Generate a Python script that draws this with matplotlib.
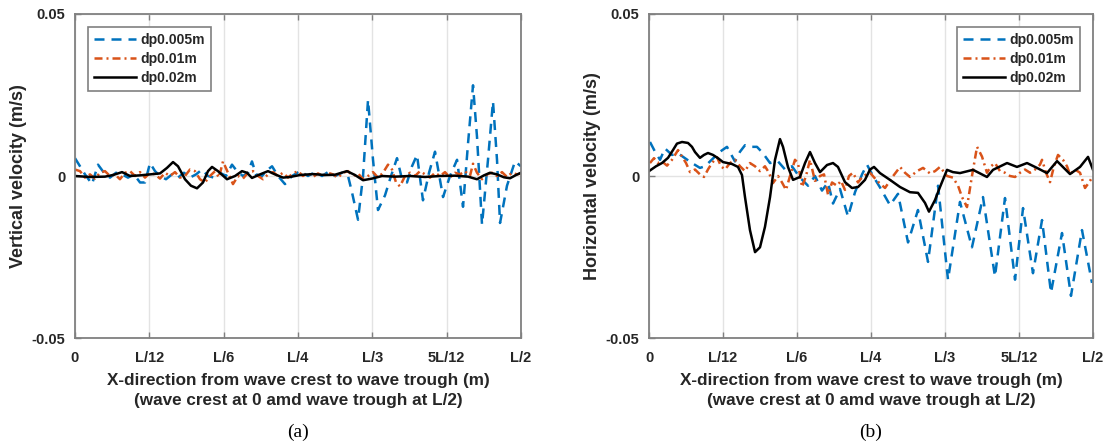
import matplotlib
matplotlib.use("Agg")
import matplotlib.pyplot as plt

plt.rcParams['font.family'] = ['Liberation Sans', 'DejaVu Sans']

# x positions are in percent of wavelength L (0 .. 50 = L/2); velocities in m/s
series_labels = ["dp0.005m", "dp0.01m", "dp0.02m"]
tick_pos = [0, 100/12, 100/6, 25, 100/3, 500/12, 50]
tick_labels = ["0", "L/12", "L/6", "L/4", "L/3", "5L/12", "L/2"]

# ---------------- (a) vertical velocity ----------------
a_blue_x = [0.0, 0.56, 1.12, 1.91, 2.58, 3.25, 3.92, 4.60, 5.27, 5.94, 6.61, 7.29, 7.85, 8.41,
            8.97, 9.53, 10.20, 10.87, 11.55, 12.22, 12.89, 13.57, 14.24, 14.91, 15.58, 16.26,
            16.93, 17.60, 18.16, 18.83, 19.39, 19.84, 20.29, 20.96, 21.64, 22.09, 22.76, 23.54,
            24.33, 25.22, 26.12, 26.91, 27.69, 28.36, 29.15, 29.93, 30.61, 31.05, 31.73, 32.29,
            32.85, 33.41, 33.97, 34.75, 35.43, 36.10, 36.66, 37.22, 37.78, 38.34, 39.01, 39.69,
            40.36, 41.26, 42.04, 42.83, 43.50, 44.06, 44.62, 45.07, 45.63, 46.30, 46.86, 47.31,
            47.65, 48.43, 49.33, 50.0]
a_blue_y = [0.0055, 0.003, 0.0005, -0.0025, 0.0035, 0.001, -0.0005, 0.001, 0.0005, -0.0005,
            0.0005, -0.002, -0.002, 0.004, 0.0015, 0.0, -0.001, 0.0005, -0.0005, 0.001, -0.0005,
            0.0005, 0.002, 0.0, -0.0005, 0.001, 0.0, 0.0035, 0.0015, 0.0, 0.001, 0.0045, 0.0005,
            0.0, 0.002, 0.003, 0.0, -0.0025, 0.0, 0.0015, 0.0, 0.0012, 0.0, 0.0012, 0.0, 0.001,
            0.0, -0.005, -0.0135, 0.0, 0.0235, 0.005, -0.0105, -0.006, 0.0, 0.0055, -0.001,
            -0.002, 0.003, 0.0065, -0.0075, 0.001, 0.0075, -0.0065, 0.0, 0.005, -0.0095, 0.01,
            0.028, 0.012, -0.015, 0.005, 0.023, 0.005, -0.0145, -0.003, 0.0045, 0.003]

a_orange_x = [0.0, 0.56, 1.12, 1.68, 2.24, 2.80, 3.36, 3.92, 4.48, 5.04, 5.61, 6.17, 6.73, 7.29,
              7.85, 8.41, 8.97, 9.53, 10.09, 10.65, 11.21, 11.77, 12.33, 12.89, 13.45, 14.01,
              14.57, 15.13, 15.70, 16.14, 16.59, 17.15, 17.71, 18.27, 18.83, 19.39, 19.96,
              20.52, 21.08, 21.64, 22.20, 22.76, 23.32, 23.88, 24.44, 25.00, 25.56, 26.12,
              26.68, 27.24, 27.80, 28.36, 28.92, 29.48, 30.04, 30.61, 31.17, 31.73, 32.29,
              32.85, 33.41, 33.97, 34.53, 35.09, 35.54, 35.99, 36.43, 37.00, 37.56, 38.12,
              38.68, 39.24, 39.80, 40.36, 40.92, 41.48, 42.04, 42.60, 43.16, 43.72, 44.28,
              44.62, 45.07, 45.63, 46.19, 46.75, 47.31, 47.87, 48.43, 48.99, 49.55, 50.0]
a_orange_y = [0.002, 0.0015, -0.0005, 0.0005, -0.0008, 0.001, 0.0015, 0.0, 0.0005, -0.001,
              0.001, 0.0015, 0.0, 0.0012, -0.0005, 0.001, 0.0005, -0.0008, 0.001, 0.0, 0.0012,
              -0.0005, 0.0, 0.002, 0.0015, -0.001, -0.002, 0.0, 0.0015, -0.0005, 0.0045, 0.001,
              -0.0025, 0.0, -0.0008, 0.001, 0.0015, 0.0, -0.001, 0.0005, 0.0012, 0.0, 0.001,
              -0.0005, 0.0008, 0.0015, 0.0, 0.001, -0.0003, 0.0008, 0.0, 0.001, 0.0005, -0.0005,
              0.001, 0.0015, 0.0, 0.0008, -0.001, 0.0, 0.0012, -0.0005, 0.001, 0.0035, 0.002,
              -0.002, -0.0032, 0.0, 0.001, 0.0, 0.0015, 0.0005, -0.0005, 0.001, 0.0, 0.0012,
              -0.0005, 0.001, 0.0005, 0.0015, 0.0, 0.0038, 0.001, -0.001, 0.0005, 0.001, 0.0,
              0.0012, -0.0003, 0.001, 0.0005, 0.0008]

a_black_x = [0.0, 1.68, 3.36, 4.26, 5.27, 6.17, 7.29, 8.41, 9.53, 10.31, 10.99, 11.55, 12.33,
             13.00, 13.68, 14.35, 14.91, 15.36, 16.03, 17.04, 17.94, 18.72, 19.28, 19.84, 20.74,
             21.64, 22.42, 23.32, 24.10, 25.22, 26.68, 28.03, 29.15, 30.49, 31.39, 32.29, 33.30,
             34.42, 35.87, 37.56, 39.24, 40.92, 42.60, 44.06, 45.07, 45.85, 46.52, 47.31, 48.09,
             48.77, 49.44, 50.0]
a_black_y = [0.0, -0.0003, -0.0002, 0.0003, 0.0012, 0.0, 0.0002, 0.0005, 0.0008, 0.0025, 0.0043,
             0.0030, -0.0010, -0.0030, -0.0038, -0.0020, 0.0015, 0.0028, 0.0015, -0.0010, 0.0,
             0.0015, 0.0010, -0.0006, 0.0005, 0.0015, 0.0005, -0.0005, -0.0003, 0.0003, 0.0006,
             0.0003, 0.0004, 0.0015, 0.0003, -0.0013, -0.0008, 0.0, -0.0002, 0.0, -0.0003, 0.0,
             0.0001, -0.0002, -0.0010, 0.0002, 0.0010, 0.0005, -0.0004, -0.0007, 0.0003, 0.0010]

# ---------------- (b) horizontal velocity ----------------
b_blue_x = [0.11, 0.68, 1.24, 1.80, 2.59, 3.27, 4.05, 4.84, 5.74, 6.31, 6.87, 7.43, 8.00, 8.78,
            9.68, 10.25, 10.81, 11.37, 12.16, 12.84, 13.63, 14.53, 15.32, 16.10, 17.00, 17.91,
            18.69, 19.48, 20.16, 20.72, 21.51, 22.41, 23.20, 23.99, 24.55, 25.23, 26.01, 27.14,
            28.04, 29.17, 30.29, 31.42, 32.55, 33.67, 35.02, 36.37, 37.61, 38.96, 40.09, 41.22,
            42.12, 43.24, 44.26, 45.27, 46.51, 47.52, 48.76, 49.89]
b_blue_y = [0.0105, 0.0075, 0.005, 0.0085, 0.0065, 0.007, 0.0055, 0.004, 0.0025, 0.003, 0.0045,
            0.006, 0.0075, 0.009, 0.0045, 0.0075, 0.0095, 0.009, 0.009, 0.007, 0.004, 0.0045,
            0.002, 0.003, -0.0005, -0.003, 0.0, -0.0045, -0.002, -0.0085, -0.004, -0.0125,
            -0.005, 0.0005, 0.0035, 0.0, -0.0035, -0.009, -0.0055, -0.0205, -0.0105, -0.0265,
            -0.003, -0.032, -0.008, -0.022, -0.0065, -0.031, -0.0068, -0.032, -0.0099, -0.030,
            -0.0136, -0.036, -0.0176, -0.037, -0.0167, -0.033]

b_orange_x = [0.11, 0.56, 1.01, 1.46, 2.03, 2.59, 3.27, 3.72, 4.17, 4.62, 5.18, 5.74, 6.19,
              6.64, 7.09, 7.66, 8.11, 8.56, 9.12, 9.68, 10.25, 10.81, 11.37, 11.94, 12.50,
              13.06, 13.51, 13.96, 14.53, 14.98, 15.43, 15.88, 16.44, 16.78, 17.23, 17.68,
              18.13, 18.69, 19.26, 19.71, 20.16, 20.61, 21.17, 21.62, 22.07, 22.52, 22.97,
              23.54, 24.10, 24.89, 25.68, 26.58, 27.36, 28.27, 28.83, 29.39, 30.18, 30.86,
              31.64, 32.21, 32.77, 33.56, 34.23, 34.80, 35.25, 35.81, 36.37, 36.94, 37.50,
              38.06, 38.51, 38.96, 39.53, 40.09, 40.65, 41.22, 41.78, 42.34, 42.91, 43.47,
              44.03, 44.26, 44.71, 45.16, 45.61, 46.06, 46.62, 47.07, 47.41, 47.97, 48.54,
              49.10, 49.55, 50.0]
b_orange_y = [0.004, 0.0055, 0.004, 0.0045, 0.0032, 0.005, 0.008, 0.006, 0.004, 0.0012, 0.002,
              0.0005, -0.0003, 0.002, 0.004, 0.0058, 0.003, 0.002, 0.004, 0.005, 0.003, 0.0015,
              0.004, 0.003, 0.0015, 0.003, 0.001, -0.0022, 0.0, -0.002, -0.0043, 0.0, 0.005,
              0.004, -0.0034, 0.0, 0.005, -0.0015, 0.0, 0.0005, -0.0058, -0.002, -0.003,
              -0.0015, -0.0043, 0.0, 0.001, -0.002, 0.0, 0.001, -0.0015, -0.0037, -0.0005,
              0.0028, 0.001, -0.0003, 0.0015, 0.0025, 0.0008, 0.0015, 0.0028, 0.0, -0.0005,
              -0.003, -0.0065, -0.0096, 0.0, 0.009, 0.006, 0.001, 0.003, 0.004, 0.0015, 0.001,
              0.0, -0.0003, 0.001, 0.002, 0.001, 0.002, 0.0035, 0.005, 0.001, -0.0019, 0.003,
              0.0065, 0.005, 0.003, 0.0005, 0.002, 0.001, -0.0037, -0.002, 0.0]

b_black_x = [0.0, 0.79, 1.46, 2.14, 2.70, 3.15, 3.72, 4.39, 4.84, 5.18, 5.74, 6.19, 6.64, 7.21,
             7.77, 8.33, 9.35, 10.02, 10.47, 10.81, 11.37, 11.94, 12.50, 13.06, 13.63, 14.19,
             14.75, 15.09, 15.65, 16.22, 17.00, 17.57, 18.13, 18.69, 19.26, 20.05, 20.72, 21.28,
             22.07, 22.86, 23.54, 24.32, 24.89, 25.34, 26.01, 27.14, 28.27, 29.39, 30.29, 31.08,
             31.53, 32.21, 32.77, 33.56, 34.23, 35.02, 36.49, 38.06, 38.74, 40.32, 41.44, 42.57,
             43.69, 44.82, 45.95, 47.41, 48.54, 49.44, 50.0]
b_black_y = [0.0015, 0.003, 0.004, 0.0056, 0.008, 0.0100, 0.0105, 0.0102, 0.009, 0.0074, 0.0056,
             0.0065, 0.0071, 0.0065, 0.0055, 0.0043, 0.0037, 0.0028, 0.0003, -0.0065, -0.0167,
             -0.0235, -0.022, -0.0157, -0.0065, 0.005, 0.0114, 0.009, 0.0028, -0.0012, -0.0003,
             0.004, 0.0074, 0.004, 0.0012, 0.0034, 0.004, 0.0028, -0.0019, -0.0037, -0.0034,
             -0.0012, 0.002, 0.0028, 0.0009, -0.0012, -0.0034, -0.005, -0.0052, -0.0083,
             -0.011, -0.0074, -0.0034, 0.0019, 0.0012, 0.0009, 0.0019, -0.0003, 0.0019, 0.004,
             0.0028, 0.004, 0.0025, 0.0009, 0.0046, 0.0006, 0.0028, 0.0059, 0.0019]

BLUE = '#0072BD'
ORANGE = '#D95319'
SPINE = '#808080'
TXT = '#262626'

W, H = 1109, 448
fig = plt.figure(figsize=(W / 100, H / 100), dpi=100)

def px_axes(l, r, t, b):
    return [l / W, 1 - b / H, (r - l) / W, (b - t) / H]

axes = [fig.add_axes(px_axes(75, 521, 14, 338)), fig.add_axes(px_axes(649, 1093, 14, 338))]
data = [
    ((a_blue_x, a_blue_y), (a_orange_x, a_orange_y), (a_black_x, a_black_y)),
    ((b_blue_x, b_blue_y), (b_orange_x, b_orange_y), (b_black_x, b_black_y)),
]
ylabels = ["Vertical velocity (m/s)", "Horizontal velocity (m/s)"]
legend_locs = ['upper left', 'upper right']
panel_tags = ["(a)", "(b)"]

for ax, (blue, orange, black), ylab, lloc, tag in zip(axes, data, ylabels, legend_locs, panel_tags):
    ax.plot(blue[0], blue[1], color=BLUE, lw=1.8, ls=(0, (4, 2.8)), label=series_labels[0])
    ax.plot(orange[0], orange[1], color=ORANGE, lw=1.8, ls=(0, (3.2, 1.6, 0.8, 1.6)),
            label=series_labels[1])
    ax.plot(black[0], black[1], color='black', lw=1.8, ls='-', label=series_labels[2])
    ax.set_xlim(0, 50)
    ax.set_ylim(-0.05, 0.05)
    ax.set_xticks(tick_pos)
    ax.set_xticklabels(tick_labels)
    ax.set_yticks([-0.05, 0, 0.05])
    ax.set_yticklabels(["-0.05", "0", "0.05"])
    ax.grid(True, color='#e3e3e3', lw=1.0)
    ax.set_axisbelow(True)
    for s in ax.spines.values():
        s.set_color(SPINE)
        s.set_linewidth(1.3)
    ax.tick_params(direction='in', length=4, width=1, color=SPINE, top=True, right=False,
                   labelsize=10.5, labelcolor=TXT)
    ax.tick_params(axis='x', pad=9)
    ax.tick_params(axis='y', pad=7)
    for lab in ax.get_xticklabels() + ax.get_yticklabels():
        lab.set_fontweight('bold')
    ax.set_ylabel(ylab, fontsize=13, fontweight='bold', color=TXT, labelpad=3)
    ax.set_xlabel("X-direction from wave crest to wave trough (m)\n"
                  "(wave crest at 0 amd wave trough at L/2)",
                  fontsize=12.3, fontweight='bold', color=TXT, labelpad=6, linespacing=1.45)
    if lloc == 'upper left':
        anchor = (13 / 446, 1 - 13 / 324)
    else:
        anchor = (1 - 13 / 444, 1 - 13 / 324)
    leg = ax.legend(loc=lloc, bbox_to_anchor=anchor, borderaxespad=0, fancybox=False,
                    framealpha=1, edgecolor=SPINE, handlelength=3.0, handletextpad=0.3,
                    labelspacing=0.35, borderpad=0.45, prop={'weight': 'bold', 'size': 10})
    leg.get_frame().set_linewidth(1.2)
    for t in leg.get_texts():
        t.set_color(TXT)
    bbox = ax.get_position()
    fig.text(bbox.x0 + bbox.width / 2, 1 - 432 / H, tag, ha='center', va='center',
             fontsize=14, family='Liberation Serif')

fig.savefig("out.png", dpi=100)
